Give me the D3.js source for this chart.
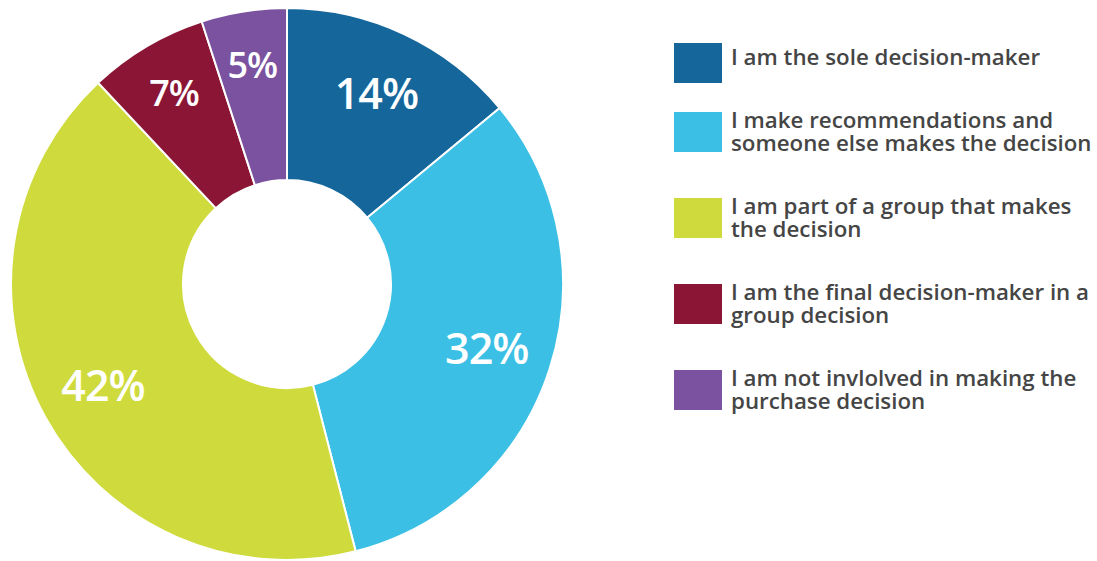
<!DOCTYPE html>
<html>
<head>
<meta charset="utf-8">
<script src="https://cdn.jsdelivr.net/npm/d3@7"></script>
<style>
  html, body { margin: 0; padding: 0; background: #ffffff; }
  svg { display: block; }
</style>
</head>
<body>
<svg id="chart" width="1097" height="561"></svg>
<script>
// Survey answers: role in the purchase decision
const categories = [
  "I am the sole decision-maker",
  "I make recommendations and someone else makes the decision",
  "I am part of a group that makes the decision",
  "I am the final decision-maker in a group decision",
  "I am not invlolved in making the purchase decision"
];
const legendLines = [
  ["I am the sole decision-maker"],
  ["I make recommendations and", "someone else makes the decision"],
  ["I am part of a group that makes", "the decision"],
  ["I am the final decision-maker in a", "group decision"],
  ["I am not invlolved in making the", "purchase decision"]
];
const shares = [14, 32, 42, 7, 5];
const colors = ["#15679b", "#3bbfe4", "#cfdb3c", "#8a1535", "#7a52a0"];

const svg = d3.select("#chart");

// Donut geometry
const cx = 287, cy = 284;
const outerR = 276, innerR = 104;

const pie = d3.pie().value(d => d).sort(null);
const arcs = pie(shares);

const arc = d3.arc().innerRadius(innerR).outerRadius(outerR);
// narrow slices carry their label further out, near the rim
const labelArc = d => {
  const r = d.value < 10 ? 222 : 210;
  return d3.arc().innerRadius(r).outerRadius(r).centroid(d);
};

const g = svg.append("g").attr("transform", `translate(${cx},${cy})`);

g.selectAll("path.slice")
  .data(arcs)
  .join("path")
  .attr("class", "slice")
  .attr("d", arc)
  .attr("fill", (d, i) => colors[i])
  .attr("stroke", "#ffffff")
  .attr("stroke-width", 2)
  .attr("stroke-linejoin", "round");

const labelFont = "'Open Sans', Lato, 'Noto Sans', sans-serif";

g.selectAll("text.pct")
  .data(arcs)
  .join("text")
  .attr("class", "pct")
  .attr("transform", d => `translate(${labelArc(d)})`)
  .attr("text-anchor", "middle")
  .attr("dy", "0.36em")
  .attr("fill", "#ffffff")
  .attr("font-family", labelFont)
  .attr("font-weight", 600)
  .attr("font-size", d => d.value < 10 ? 36 : 43)
  .attr("letter-spacing", -1)
  .text(d => d.value + "%");

// Legend
const legendX = 674, swatchW = 48, swatchH = 40, textX = 731;
const lineH = 23;
let y = 43;
const legendPos = legendLines.map(lines => {
  const top = y;
  y += 52 + 17 * lines.length;
  return top;
});

const items = svg.append("g").selectAll("g.item")
  .data(categories)
  .join("g")
  .attr("class", "item")
  .attr("transform", (d, i) => `translate(0,${legendPos[i]})`);

items.append("rect")
  .attr("x", legendX)
  .attr("y", 0)
  .attr("width", swatchW)
  .attr("height", swatchH)
  .attr("fill", (d, i) => colors[i]);

items.append("text")
  .attr("x", textX)
  .attr("y", (d, i) => legendLines[i].length === 1 ? 22 : 16)
  .attr("fill", "#454545")
  .attr("font-family", labelFont)
  .attr("font-weight", 600)
  .attr("font-size", 22.3)
  .selectAll("tspan")
  .data((d, i) => legendLines[i])
  .join("tspan")
  .attr("x", textX)
  .attr("dy", (d, j) => j === 0 ? 0 : lineH)
  .text(d => d);
</script>
</body>
</html>
